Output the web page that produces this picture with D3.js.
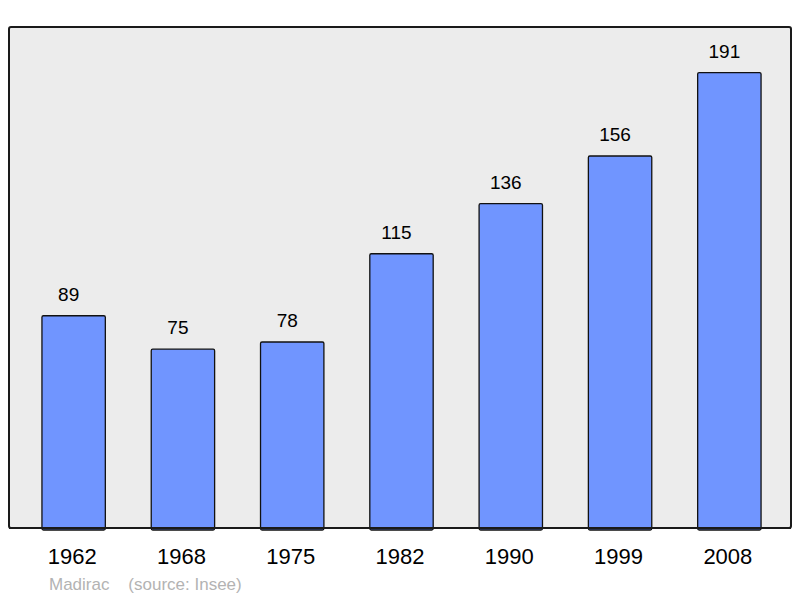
<!DOCTYPE html>
<html>
<head>
<meta charset="utf-8">
<script src="https://cdn.jsdelivr.net/npm/d3@7"></script>
<style>
  body { margin: 0; background: #fff; }
  text { font-family: "Liberation Sans", Arial, sans-serif; }
</style>
</head>
<body>
<div id="chart-area"></div>
<script>
// population of Madirac by census year
var years = ["1962", "1968", "1975", "1982", "1990", "1999", "2008"];
var population = [89, 75, 78, 115, 136, 156, 191];

var width = 800, height = 598;
var panel = { left: 9, top: 27, right: 791, bottom: 528 };

var svg = d3.select("#chart-area")
	.append("svg")
		.attr("width", width)
		.attr("height", height);

var x = d3.scaleBand()
	.domain(years)
	.range([19, 784])
	.paddingInner(0.42)
	.paddingOuter(0.21);

var y = d3.scaleLinear()
	.domain([0, d3.max(population) * 1.1])
	.range([panel.bottom, panel.top]);

// background panel
svg.append("rect")
	.attr("x", panel.left)
	.attr("y", panel.top)
	.attr("width", panel.right - panel.left)
	.attr("height", panel.bottom - panel.top)
	.attr("rx", 2)
	.attr("fill", "#ececec")
	.attr("stroke", "#1a1a1a")
	.attr("stroke-width", 2);

var data = years.map((d, i) => ({ year: d, value: population[i] }));

svg.selectAll("rect.bar")
	.data(data)
	.enter()
	.append("rect")
		.attr("class", "bar")
		.attr("x", d => x(d.year))
		.attr("y", d => y(d.value))
		.attr("width", x.bandwidth())
		.attr("height", d => y(0) - y(d.value) + 2)
		.attr("rx", 1.5)
		.attr("fill", "#7095ff")
		.attr("stroke", "#111")
		.attr("stroke-width", 1.3);

// redraw bottom edge of the panel over the bars
svg.append("line")
	.attr("x1", panel.left)
	.attr("x2", panel.right)
	.attr("y1", panel.bottom)
	.attr("y2", panel.bottom)
	.attr("stroke", "#1a1a1a")
	.attr("stroke-width", 2);

// value labels (sit a little left of the bar centre, as in the original)
svg.selectAll("text.value")
	.data(data)
	.enter()
	.append("text")
		.attr("class", "value")
		.attr("x", d => x(d.year) + x.bandwidth() / 2 - 5)
		.attr("y", d => y(d.value) - 15)
		.attr("text-anchor", "middle")
		.attr("font-size", "19px")
		.attr("fill", "#000")
		.text(d => d.value);

// year labels
var xAxisCall = d3.axisBottom(x).tickSize(0).tickPadding(0);
var xAxisGroup = svg.append("g")
	.attr("transform", "translate(-1.5, " + panel.bottom + ")")
	.call(xAxisCall);
xAxisGroup.select(".domain").remove();
xAxisGroup.selectAll("text")
	.attr("y", 36)
	.attr("dy", 0)
	.attr("font-size", "22px")
	.attr("font-family", "Liberation Sans, Arial, sans-serif")
	.attr("fill", "#000");

// source note
svg.append("text")
	.attr("x", 49)
	.attr("y", 590)
	.attr("font-size", "17px")
	.attr("fill", "#b3b3b3")
	.attr("xml:space", "preserve")
	.style("white-space", "pre")
	.text("Madirac    (source: Insee)");
</script>
</body>
</html>
